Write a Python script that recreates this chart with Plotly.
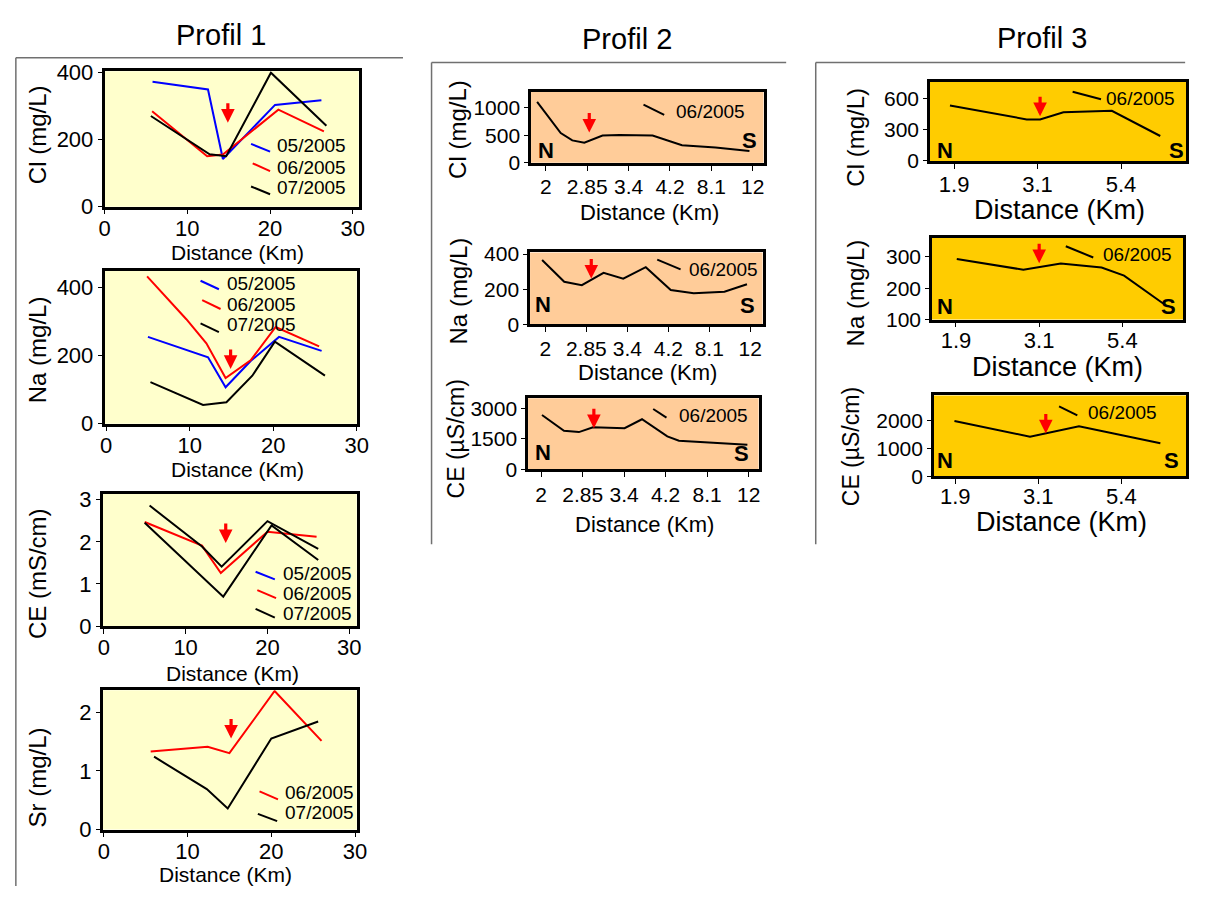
import plotly.graph_objects as go

W, H = 1206, 899

# ---------------- Profil 1 (distance in km) ----------------
p1_cl_x = {
    "05/2005": [5.8, 12.5, 14.3, 20.6, 26.2],
    "06/2005": [5.75, 12.4, 14.3, 21.0, 26.5],
    "07/2005": [5.6, 12.7, 14.7, 20.1, 26.8],
}
p1_cl_y = {
    "05/2005": [372, 349, 142, 303, 317],
    "06/2005": [284, 150, 155, 289, 224],
    "07/2005": [270, 156, 150, 399, 241],
}

p1_na_x = {
    "05/2005": [5.0, 12.2, 14.3, 17.3, 20.7, 25.8],
    "06/2005": [4.9, 9.6, 12.0, 14.3, 17.3, 20.3, 25.5],
    "07/2005": [5.3, 11.6, 14.4, 17.5, 20.2, 26.2],
}
p1_na_y = {
    "05/2005": [255, 195, 107, 184, 255, 214],
    "06/2005": [433, 307, 236, 134, 186, 284, 227],
    "07/2005": [122, 55, 63, 141, 241, 141],
}

p1_ce_x = {
    "06/2005": [5.0, 12.0, 14.3, 20.0, 26.0],
    "07/2005": [5.6, 12.0, 14.4, 20.0, 26.2],
    "07/2005 b": [5.0, 14.6, 20.5, 26.2],
}
p1_ce_y = {
    "06/2005": [2.47, 1.91, 1.26, 2.24, 2.12],
    "07/2005": [2.86, 1.89, 1.41, 2.49, 1.83],
    "07/2005 b": [2.45, 0.70, 2.39, 1.57],
}

p1_sr_x = {
    "06/2005": [5.6, 12.4, 15.0, 20.4, 26.0],
    "07/2005": [6.0, 12.3, 14.8, 20.0, 25.6],
}
p1_sr_y = {
    "06/2005": [1.33, 1.41, 1.30, 2.36, 1.51],
    "07/2005": [1.24, 0.69, 0.36, 1.55, 1.84],
}

# ---------------- Profil 2 (ordinal distance axis) ----------------
p2_ticks = ["2", "2.85", "3.4", "4.2", "8.1", "12"]
p2_cl_x = [-0.21, 0.36, 0.64, 0.93, 1.37, 1.78, 2.58, 3.29, 4.10, 4.92]
p2_cl_y = [1105, 540, 408, 366, 495, 506, 495, 321, 279, 216]
p2_na_x = [-0.08, 0.46, 0.89, 1.42, 1.90, 2.45, 3.06, 3.62, 4.37, 4.92]
p2_na_y = [367, 243, 223, 294, 260, 326, 196, 177, 186, 229]
p2_ce_x = [0.02, 0.55, 0.91, 1.25, 2.01, 2.43, 3.04, 3.32, 4.97]
p2_ce_y = [2675, 1897, 1833, 2075, 2027, 2465, 1621, 1411, 1216]

# ---------------- Profil 3 (ordinal distance axis) ----------------
p3_ticks = ["1.9", "3.1", "5.4"]
p3_cl_x = [-0.05, 0.87, 1.03, 1.31, 1.89, 2.47]
p3_cl_y = [533, 400, 400, 468, 483, 240]
p3_na_x = [0.01, 0.81, 1.26, 1.75, 2.02, 2.49]
p3_na_y = [293, 259, 279, 266, 240, 151]
p3_ce_x = [-0.01, 0.90, 1.49, 2.47]
p3_ce_y = [1979, 1413, 1791, 1180]

# position of the red arrow (sampling point) in each panel: x, y at the tip
arrows = [(14.9, 250), (14.9, 161), (14.9, 1.97), (15.2, 1.55),
          (1.05, 550), (1.12, 261), (1.27, 2028),
          (1.03, 431), (1.0, 280), (1.09, 1533)]

COL = {"05/2005": "#0000ff", "06/2005": "#ff0000", "07/2005": "#000000", "07/2005 b": "#000000"}
FONT = "Liberation Sans, Arial, Helvetica, sans-serif"
BG1, BG2, BG3 = "#ffffcc", "#ffcc99", "#ffcc00"


def fx(px):
    """pixel -> paper x"""
    return px / W


def fy(py):
    """pixel -> paper y"""
    return 1 - py / H


# panel boxes in pixels (left, top, right, bottom) and axis settings
panels = [
    dict(box=(100, 62, 358, 201), xr=[0, 30.7], yr=[0, 403], xt=[0, 10, 20, 30], yt=[0, 200, 400], bg=BG1, tf=22, xtf=22, so=-5),
    dict(box=(100, 267, 356, 424), xr=[-0.2, 30], yr=[0, 449], xt=[0, 10, 20, 30], yt=[0, 200, 400], bg=BG1, tf=22, xtf=22, so=-5),
    dict(box=(98, 496, 356, 632), xr=[-0.15, 30.9], yr=[0, 3.14], xt=[0, 10, 20, 30], yt=[0, 1, 2, 3], bg=BG1, tf=22, xtf=22, so=-5),
    dict(box=(98, 698, 356, 841), xr=[-0.15, 30.2], yr=[0, 2.37], xt=[0, 10, 20, 30], yt=[0, 1, 2], bg=BG1, tf=22, xtf=22, so=-5),
    dict(box=(533, 83, 769, 156), xr=[-0.357, 5.26], yr=[0, 1290], xt=list(range(6)), xtt=p2_ticks, yt=[0, 500, 1000], bg=BG2, tf=21, xtf=21, so=-2),
    dict(box=(532, 248, 768, 322), xr=[-0.374, 5.30], yr=[0, 410], xt=list(range(6)), xtt=p2_ticks, yt=[0, 200, 400], bg=BG2, tf=21, xtf=21, so=-1),
    dict(box=(530, 398, 764, 471), xr=[-0.315, 5.24], yr=[0, 3490], xt=list(range(6)), xtt=p2_ticks, yt=[0, 1500, 3000], bg=BG2, tf=21, xtf=21, so=0),
    dict(box=(938, 73, 1198, 154), xr=[-0.289, 2.78], yr=[0, 760], xt=[0, 1, 2], xtt=p3_ticks, yt=[0, 300, 600], bg=BG3, tf=21, xtf=22, so=-3),
    dict(box=(940, 233, 1195, 317), xr=[-0.288, 2.73], yr=[100, 361], xt=[0, 1, 2], xtt=p3_ticks, yt=[100, 200, 300], bg=BG3, tf=21, xtf=22, so=-6),
    dict(box=(942, 395, 1198, 478), xr=[-0.257, 2.78], yr=[0, 2890], xt=[0, 1, 2], xtt=p3_ticks, yt=[0, 1000, 2000], bg=BG3, tf=21, xtf=22, so=-6),
]

fig = go.Figure()
layout = dict(
    width=W, height=H, margin=dict(l=0, r=0, t=0, b=0),
    paper_bgcolor="white", plot_bgcolor="white", showlegend=False,
    font=dict(family=FONT, color="black"),
)
shapes, annotations = [], []


def ax_names(i):
    s = "" if i == 1 else str(i)
    return "x" + s, "y" + s, "xaxis" + s, "yaxis" + s


for i, p in enumerate(panels, start=1):
    xn, yn, xk, yk = ax_names(i)
    l, t, r, b = p["box"]
    layout[xk] = dict(
        domain=[fx(l), fx(r)], range=p["xr"], anchor=yn,
        tickvals=p["xt"], ticktext=p.get("xtt", [str(v) for v in p["xt"]]),
        showline=True, mirror=True, linecolor="black", linewidth=2.5,
        ticks="outside", ticklen=5, tickwidth=1.2, tickcolor="black",
        ticklabelstandoff=p["so"],
        tickangle=0, tickfont=dict(size=p["xtf"], family=FONT, color="black"),
        showgrid=False, zeroline=False, fixedrange=True,
    )
    layout[yk] = dict(
        domain=[fy(b), fy(t)], range=p["yr"], anchor=xn,
        tickvals=p["yt"],
        showline=True, mirror=True, linecolor="black", linewidth=2.5,
        ticks="outside", ticklen=4, tickwidth=1.2, tickcolor="black",
        tickfont=dict(size=p["tf"], family=FONT, color="black"),
        showgrid=False, zeroline=False, fixedrange=True,
    )
    # panel background
    shapes.append(dict(type="rect", xref=xn + " domain", yref=yn + " domain",
                       x0=0, x1=1, y0=0, y1=1, fillcolor=p["bg"],
                       line=dict(width=0), layer="below"))
    # sampling-point arrow
    ax_, ay_ = arrows[i - 1]
    annotations.append(dict(x=ax_, y=ay_, xref=xn, yref=yn, text="",
                            showarrow=True, ax=0, ay=-21, arrowhead=2,
                            arrowsize=0.85, arrowwidth=3.2, arrowcolor="#ff0000"))


def add_line(i, x, y, color):
    xn, yn, _, _ = ax_names(i)
    fig.add_trace(go.Scatter(x=x, y=y, mode="lines", xaxis=xn, yaxis=yn,
                             line=dict(color=color, width=2), hoverinfo="skip"))


for key in ["05/2005", "06/2005", "07/2005"]:
    add_line(1, p1_cl_x[key], p1_cl_y[key], COL[key])
for key in ["05/2005", "06/2005", "07/2005"]:
    add_line(2, p1_na_x[key], p1_na_y[key], COL[key])
for key in ["06/2005", "07/2005", "07/2005 b"]:
    add_line(3, p1_ce_x[key], p1_ce_y[key], COL[key])
for key in ["06/2005", "07/2005"]:
    add_line(4, p1_sr_x[key], p1_sr_y[key], COL[key])
add_line(5, p2_cl_x, p2_cl_y, "black")
add_line(6, p2_na_x, p2_na_y, "black")
add_line(7, p2_ce_x, p2_ce_y, "black")
add_line(8, p3_cl_x, p3_cl_y, "black")
add_line(9, p3_na_x, p3_na_y, "black")
add_line(10, p3_ce_x, p3_ce_y, "black")

# in-plot keys: short slanted sample line + date label
keys = [
    (1, "05/2005", (17.7, 187), (20.0, 164), (20.6, 181)),
    (1, "06/2005", (17.9, 129), (20.0, 106), (20.6, 118)),
    (1, "07/2005", (17.7, 60), (20.0, 37), (20.6, 57)),
    (2, "05/2005", (11.3, 420), (13.5, 395), (14.2, 413)),
    (2, "06/2005", (11.5, 363), (13.7, 337), (14.2, 350)),
    (2, "07/2005", (11.3, 295), (13.5, 269), (14.2, 290)),
    (3, "05/2005", (18.55, 1.29), (20.9, 1.11), (21.6, 1.24)),
    (3, "06/2005", (18.76, 0.855), (21.05, 0.663), (21.6, 0.778)),
    (3, "07/2005", (18.55, 0.409), (20.9, 0.20), (21.6, 0.293)),
    (4, "06/2005", (18.6, 0.651), (20.8, 0.513), (21.4, 0.623)),
    (4, "07/2005", (18.4, 0.267), (20.7, 0.143), (21.4, 0.284)),
    (5, "06/2005", (2.36, 1057), (2.86, 871), (3.10, 930)),
    (6, "06/2005", (2.73, 369), (3.30, 313), (3.46, 313)),
    (7, "06/2005", (2.70, 2967), (3.02, 2545), (3.28, 2641)),
    (8, "06/2005", (1.42, 667), (1.76, 594), (1.80, 600)),
    (9, "06/2005", (1.32, 334), (1.65, 298), (1.74, 307)),
    (10, "06/2005", (1.25, 2498), (1.47, 2180), (1.58, 2297)),
]
for i, lab, p0, p1, pt in keys:
    xn, yn, _, _ = ax_names(i)
    color = COL[lab] if i <= 4 else "black"
    shapes.append(dict(type="line", xref=xn, yref=yn, x0=p0[0], y0=p0[1],
                       x1=p1[0], y1=p1[1], line=dict(color=color, width=2)))
    annotations.append(dict(x=pt[0], y=pt[1], xref=xn, yref=yn, text=lab,
                            showarrow=False, xanchor="left", yanchor="middle",
                            font=dict(size=19, family=FONT, color="black")))

# N / S orientation letters for Profil 2 and 3
ns = [(5, 0.064, 0.174, 0.939, 0.311), (6, 0.056, 0.278, 0.937, 0.265),
      (7, 0.064, 0.243, 0.925, 0.22), (8, 0.058, 0.132, 0.961, 0.132),
      (9, 0.05, 0.16, 0.941, 0.16), (10, 0.045, 0.2, 0.944, 0.2)]
for i, nx, ny, sx, sy in ns:
    xn, yn, _, _ = ax_names(i)
    for txt, xx, yy in (("N", nx, ny), ("S", sx, sy)):
        annotations.append(dict(x=xx, y=yy, xref=xn + " domain", yref=yn + " domain",
                                text="<b>%s</b>" % txt, showarrow=False,
                                xanchor="center", yanchor="middle",
                                font=dict(size=22, family=FONT, color="black")))


def paper_text(txt, px, py, size, angle=0):
    annotations.append(dict(x=fx(px), y=fy(py), xref="paper", yref="paper",
                            text=txt, showarrow=False, textangle=angle,
                            xanchor="center", yanchor="middle",
                            font=dict(size=size, family=FONT, color="black")))


# column titles
paper_text("Profil 1", 218, 25, 29)
paper_text("Profil 2", 630, 29, 29)
paper_text("Profil 3", 1052, 28, 29)

# y-axis titles
ytitles = [("Cl (mg/L)", 32, 127, 24), ("Na (mg/L)", 32, 348, 24),
           ("CE (mS/cm)", 32, 578, 24), ("Sr (mg/L)", 32, 788, 24),
           ("Cl (mg/L)", 459, 122, 24), ("Na (mg/L)", 459, 288, 24),
           ("CE (µS/cm)", 457, 440, 23),
           ("Cl (mg/L)", 862, 130, 24), ("Na (mg/L)", 862, 290, 24),
           ("CE (µS/cm)", 858, 448, 23)]
for txt, px, py, sz in ytitles:
    paper_text(txt, px, py, sz, angle=-90)

# x-axis titles
xtitles = [(235, 248, 21), (235, 471, 21), (230, 681, 21), (223, 887, 21),
           (653, 207, 22), (651, 371, 22), (648, 528, 22),
           (1069, 204, 27), (1067, 366, 27), (1071, 525, 27)]
for px, py, sz in xtitles:
    paper_text("Distance (Km)", px, py, sz)

# frames around each profile column
FR = dict(color="#707070", width=1.5)
for x0, y0, x1, y_bot in ((10, 48, 403, 899), (432, 53, 792, 548), (822, 53, 1197, 548)):
    shapes.append(dict(type="line", xref="paper", yref="paper", x0=fx(x0), x1=fx(x1),
                       y0=fy(y0), y1=fy(y0), line=FR))
    shapes.append(dict(type="line", xref="paper", yref="paper", x0=fx(x0), x1=fx(x0),
                       y0=fy(y0), y1=fy(y_bot), line=FR))

layout["shapes"] = shapes
layout["annotations"] = annotations
fig.update_layout(**layout)
fig.write_html("out.html")
